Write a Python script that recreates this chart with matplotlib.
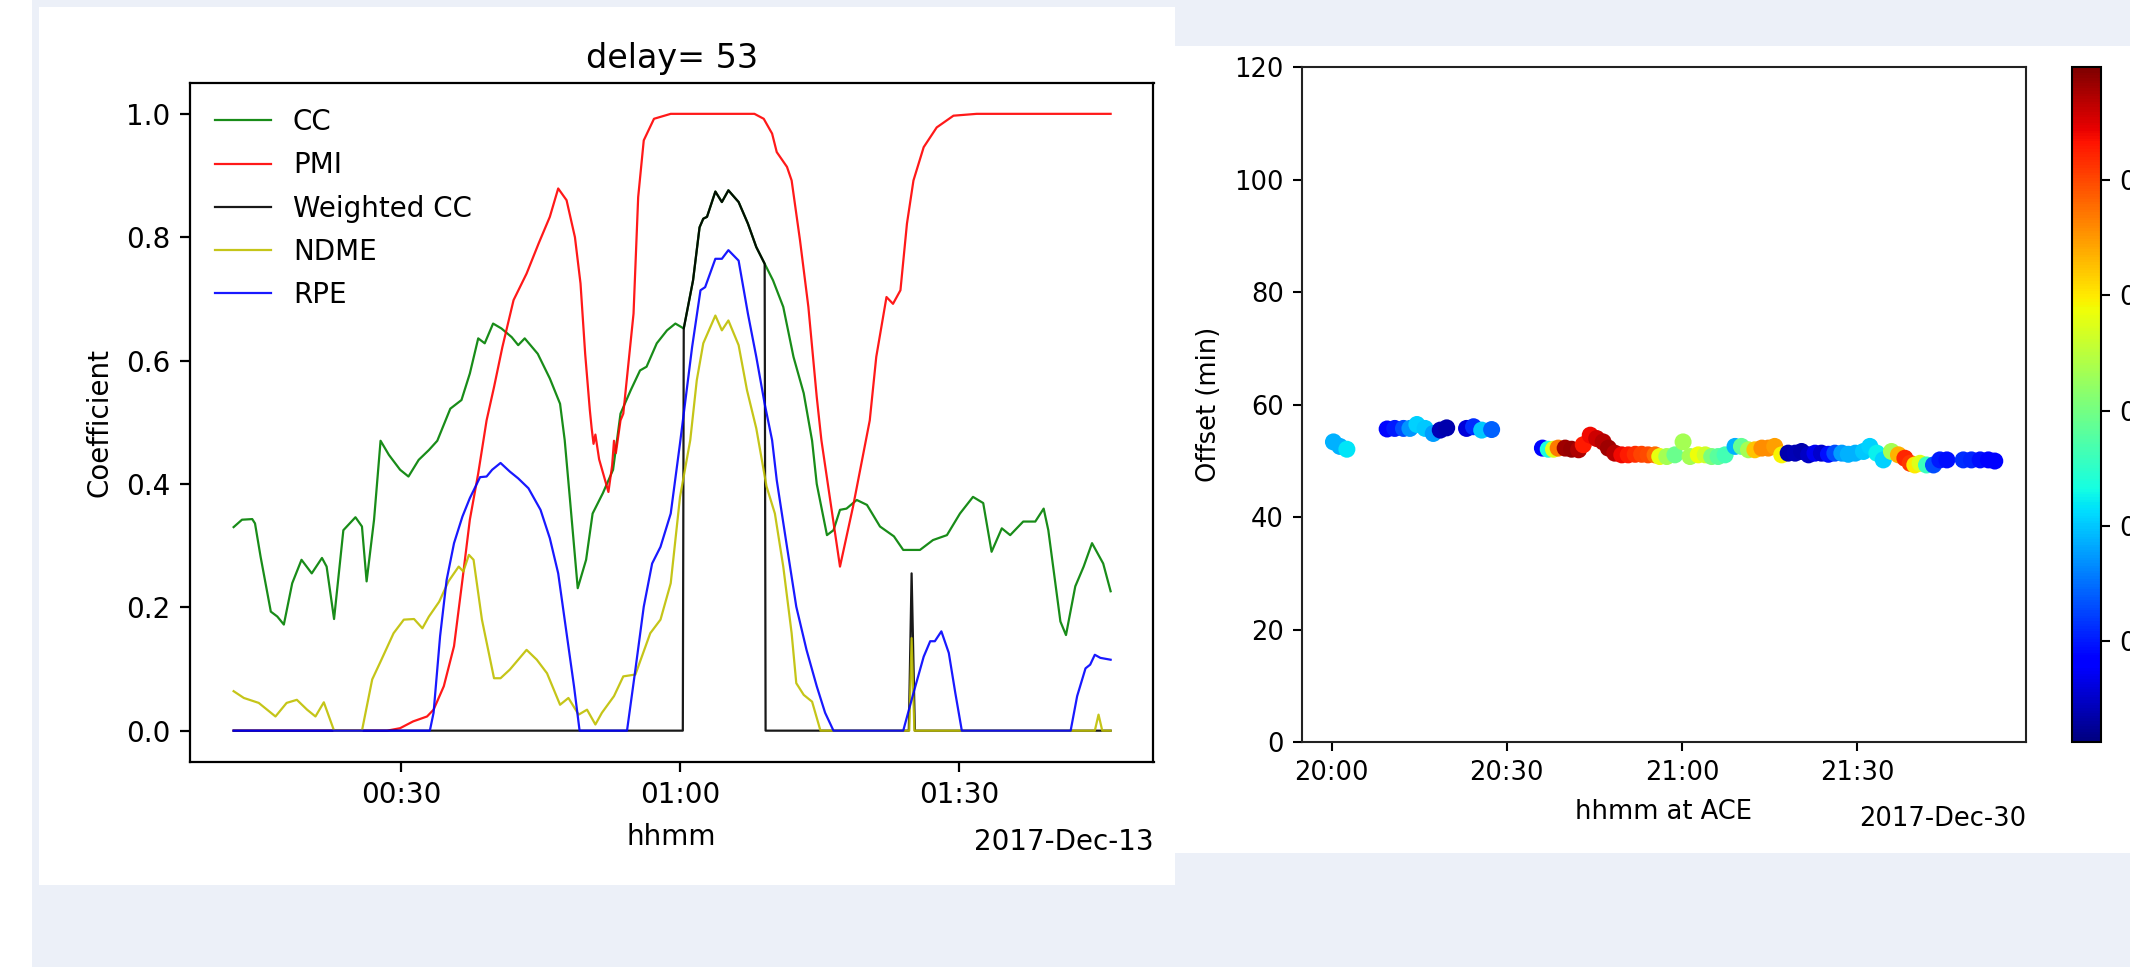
import numpy as np
import pandas as pd
import matplotlib
matplotlib.use("Agg")
import matplotlib.pyplot as plt
import matplotlib.dates as mdates
from matplotlib.patches import Rectangle

# ---------------- data: left panel (minutes after 2017-12-13 00:00) ----------------
cc_t = [12.0, 12.9, 14.0, 14.3, 14.9, 16.0, 16.7, 17.4, 18.3, 19.3,
        20.4, 21.5, 22.0, 22.8, 23.8, 25.1, 25.8, 26.3, 27.1, 27.8,
        28.7, 29.9, 30.8, 31.9, 33.0, 33.9, 35.3, 36.5, 37.4, 38.3,
        39.0, 39.9, 40.8, 41.9, 42.6, 43.3, 44.7, 46.0, 47.1, 47.6,
        48.2, 49.0, 49.9, 50.6, 51.7, 52.8, 53.6, 54.7, 55.7, 56.4,
        57.5, 58.6, 59.5, 60.4, 61.4, 62.1, 62.5, 62.9, 63.8, 64.5,
        65.2, 66.3, 67.3, 68.2, 69.1, 70.0, 71.1, 72.2, 73.3, 74.2,
        74.7, 75.8, 76.5, 77.2, 77.9, 79.0, 80.1, 81.5, 83.0, 84.0,
        85.8, 87.2, 88.7, 90.1, 91.5, 92.6, 93.5, 94.6, 95.5, 96.9,
        98.2, 99.1, 99.6, 100.9, 101.5, 102.5, 103.4, 104.3, 105.5, 106.3]
cc_v = [0.33, 0.342, 0.343, 0.336, 0.282, 0.193, 0.185, 0.172, 0.239, 0.277,
        0.255, 0.28, 0.266, 0.181, 0.325, 0.346, 0.331, 0.242, 0.342, 0.47,
        0.447, 0.423, 0.412, 0.439, 0.455, 0.47, 0.522, 0.536, 0.579, 0.636,
        0.628, 0.66, 0.652, 0.638, 0.625, 0.636, 0.611, 0.571, 0.53, 0.471,
        0.369, 0.231, 0.277, 0.352, 0.385, 0.423, 0.514, 0.552, 0.584, 0.59,
        0.628, 0.649, 0.66, 0.652, 0.73, 0.816, 0.83, 0.833, 0.874, 0.857,
        0.876, 0.857, 0.822, 0.784, 0.757, 0.73, 0.687, 0.606, 0.547, 0.47,
        0.40, 0.317, 0.325, 0.358, 0.36, 0.374, 0.366, 0.331, 0.315, 0.293,
        0.293, 0.309, 0.317, 0.352, 0.379, 0.369, 0.29, 0.328, 0.317, 0.339,
        0.339, 0.36, 0.325, 0.177, 0.155, 0.234, 0.266, 0.304, 0.271, 0.226]

pmi_t = [12.0, 28.5, 29.9, 31.3, 32.8, 33.5, 34.6, 35.7, 36.6, 37.4,
         38.3, 39.2, 40.0, 40.9, 42.1, 43.5, 44.8, 46.0, 46.9, 47.8,
         48.7, 49.3, 49.8, 50.3, 50.5, 50.7, 50.9, 51.3, 52.3, 52.7,
         52.9, 53.1, 53.6, 53.9, 55.0, 55.5, 56.1, 57.2, 59.0, 68.0,
         69.0, 69.9, 70.4, 71.5, 72.0, 72.9, 73.8, 74.7, 75.2, 77.2,
         78.6, 80.4, 81.1, 82.2, 82.9, 83.7, 84.4, 85.1, 86.2, 87.6,
         89.4, 91.9, 106.3]
pmi_v = [0.0, 0.0, 0.004, 0.015, 0.023, 0.034, 0.072, 0.137, 0.244, 0.342,
         0.417, 0.503, 0.557, 0.622, 0.698, 0.741, 0.79, 0.833, 0.879, 0.86,
         0.80, 0.725, 0.611, 0.52, 0.49, 0.465, 0.48, 0.44, 0.387, 0.43,
         0.47, 0.45, 0.503, 0.514, 0.676, 0.865, 0.957, 0.992, 1.0, 1.0,
         0.992, 0.968, 0.938, 0.914, 0.892, 0.795, 0.687, 0.541, 0.471, 0.266,
         0.363, 0.503, 0.606, 0.703, 0.692, 0.714, 0.822, 0.892, 0.946, 0.978,
         0.997, 1.0, 1.0]

wcc_t = [12.0, 60.3, 60.4, 61.4, 62.1, 62.5, 62.9, 63.8, 64.5, 65.2,
         66.3, 67.3, 68.2, 69.1, 69.2, 84.6, 84.9, 85.25, 106.3]
wcc_v = [0.0, 0.0, 0.652, 0.73, 0.816, 0.83, 0.833, 0.874, 0.857, 0.876,
         0.857, 0.822, 0.784, 0.757, 0.0, 0.0, 0.255, 0.0, 0.0]

ndme_t = [12.0, 13.1, 14.7, 15.6, 16.5, 17.7, 18.8, 19.9, 20.8, 21.7,
          22.8, 25.8, 26.9, 27.8, 29.2, 30.3, 31.4, 32.3, 33.0, 34.1,
          35.1, 36.2, 36.7, 37.3, 37.8, 38.7, 40.0, 40.7, 41.7, 43.5,
          44.6, 45.7, 47.1, 48.0, 49.1, 50.0, 50.9, 51.6, 52.9, 53.9,
          55.2, 56.8, 57.9, 59.0, 60.0, 61.1, 61.8, 62.5, 63.8, 64.5,
          65.2, 66.3, 67.2, 68.2, 69.3, 70.2, 71.1, 72.0, 72.5, 73.3,
          74.2, 75.1, 84.65, 84.9, 85.2, 104.6, 105.0, 105.4, 106.3]
ndme_v = [0.064, 0.053, 0.045, 0.034, 0.023, 0.045, 0.05, 0.034, 0.023, 0.046,
          0.0, 0.0, 0.083, 0.112, 0.158, 0.18, 0.181, 0.166, 0.185, 0.209,
          0.242, 0.266, 0.258, 0.285, 0.277, 0.18, 0.085, 0.085, 0.099, 0.131,
          0.115, 0.093, 0.042, 0.053, 0.026, 0.034, 0.01, 0.029, 0.056, 0.088,
          0.091, 0.158, 0.18, 0.239, 0.379, 0.471, 0.568, 0.628, 0.673, 0.649,
          0.665, 0.625, 0.552, 0.49, 0.396, 0.352, 0.266, 0.158, 0.077, 0.058,
          0.047, 0.0, 0.0, 0.15, 0.0, 0.0, 0.026, 0.0, 0.0]

rpe_t = [12.0, 33.1, 33.5, 34.2, 34.9, 35.7, 36.6, 37.4, 38.5, 39.2,
         39.8, 40.7, 41.7, 42.6, 43.7, 45.0, 46.0, 46.9, 47.8, 48.6,
         49.2, 54.3, 55.2, 56.1, 57.0, 57.9, 59.0, 60.0, 61.3, 62.2,
         62.7, 63.8, 64.5, 65.2, 66.3, 67.3, 68.2, 69.1, 69.9, 70.4,
         71.5, 72.5, 73.6, 74.7, 75.6, 76.5, 84.0, 85.1, 86.2, 86.9,
         87.4, 88.1, 88.9, 89.6, 90.3, 102.0, 102.7, 103.6, 104.1, 104.6,
         105.2, 106.3]
rpe_v = [0.0, 0.0, 0.029, 0.153, 0.244, 0.304, 0.347, 0.377, 0.411, 0.412,
         0.423, 0.434, 0.42, 0.409, 0.393, 0.358, 0.312, 0.255, 0.158, 0.072,
         0.0, 0.0, 0.099, 0.201, 0.271, 0.298, 0.352, 0.466, 0.622, 0.714,
         0.719, 0.765, 0.765, 0.779, 0.762, 0.676, 0.606, 0.53, 0.471, 0.406,
         0.298, 0.201, 0.131, 0.072, 0.029, 0.0, 0.0, 0.061, 0.12, 0.145,
         0.145, 0.161, 0.126, 0.061, 0.0, 0.0, 0.056, 0.101, 0.107, 0.123,
         0.118, 0.115]

series_names = ["CC", "PMI", "Weighted CC", "NDME", "RPE"]
yticks_left = [0.0, 0.2, 0.4, 0.6, 0.8, 1.0]

# ---------------- data: right panel (minutes after 2017-12-30 20:00) ----------------
sc_t = [0.3, 1.4, 2.6, 9.5, 10.8, 12.3, 13.4, 14.6, 16.0, 17.4,
        18.6, 19.7, 23.1, 24.3, 25.7, 27.4, 36.1, 37.1, 38.0, 38.8,
        40.0, 41.1, 42.3, 43.1, 44.3, 45.4, 46.5, 47.4, 48.5, 49.7,
        50.8, 52.0, 53.1, 54.2, 55.4, 56.2, 57.4, 58.8, 60.2, 61.4,
        62.8, 64.0, 65.1, 66.2, 67.4, 69.1, 70.2, 71.4, 72.5, 73.7,
        74.8, 75.9, 77.1, 78.2, 79.4, 80.5, 81.7, 82.8, 83.9, 85.1,
        86.2, 87.4, 88.5, 89.7, 91.1, 92.2, 93.4, 94.5, 95.9, 97.1,
        98.2, 99.1, 99.9, 100.8, 101.9, 103.1, 104.2, 105.4, 108.2, 109.6,
        111.1, 112.5, 113.6]
sc_off = [53.4, 52.6, 52.1, 55.7, 55.8, 55.8, 55.8, 56.5, 55.8, 54.9,
          55.5, 55.9, 55.8, 56.1, 55.5, 55.6, 52.3, 52.1, 52.1, 52.3,
          52.3, 52.1, 52.0, 52.9, 54.6, 54.0, 53.4, 52.3, 51.4, 51.1,
          51.1, 51.2, 51.2, 51.1, 51.1, 50.8, 50.8, 51.1, 53.4, 50.8,
          51.1, 51.1, 50.8, 50.8, 51.1, 52.6, 52.6, 52.0, 52.0, 52.3,
          52.3, 52.6, 51.1, 51.4, 51.4, 51.7, 51.1, 51.4, 51.4, 51.2,
          51.4, 51.4, 51.2, 51.4, 51.7, 52.6, 51.4, 50.2, 51.7, 51.1,
          50.5, 49.6, 49.3, 49.6, 49.3, 49.3, 50.2, 50.2, 50.2, 50.2,
          50.2, 50.2, 50.0]
sc_val = [0.488, 0.488, 0.517, 0.388, 0.40, 0.429, 0.47, 0.505, 0.50, 0.476,
          0.341, 0.335, 0.359, 0.412, 0.50, 0.441, 0.388, 0.535, 0.675, 0.769,
          0.880, 0.886, 0.875, 0.828, 0.839, 0.857, 0.869, 0.880, 0.869, 0.839,
          0.828, 0.816, 0.804, 0.798, 0.775, 0.681, 0.634, 0.593, 0.634, 0.634,
          0.687, 0.664, 0.605, 0.582, 0.564, 0.488, 0.587, 0.634, 0.722, 0.757,
          0.757, 0.746, 0.693, 0.335, 0.341, 0.335, 0.347, 0.371, 0.353, 0.394,
          0.429, 0.476, 0.488, 0.488, 0.50, 0.505, 0.523, 0.505, 0.634, 0.734,
          0.822, 0.81, 0.699, 0.675, 0.558, 0.429, 0.40, 0.394, 0.412, 0.406,
          0.394, 0.382, 0.382]
cbar_ticks = [0.4, 0.5, 0.6, 0.7, 0.8]
yticks_right = [0, 20, 40, 60, 80, 100, 120]

# ---------------- figure ----------------
W, H, DPI = 2130, 967, 100
fig = plt.figure(figsize=(W / DPI, H / DPI), dpi=DPI, facecolor="#ecf0f8")


def rect(x0, y0, x1, y1):
    """pixel box (top-left origin) -> figure fraction [l, b, w, h]"""
    return [x0 / W, 1 - y1 / H, (x1 - x0) / W, (y1 - y0) / H]


for box in [(0, 0, 32, 967), (39, 7, 1175, 885), (1175, 46, 2130, 853)]:
    l, b, w, h = rect(*box)
    fig.add_artist(Rectangle((l, b), w, h, transform=fig.transFigure,
                             facecolor="white", edgecolor="none", zorder=-10))


def to_dt(base, mins):
    return (pd.Timestamp(base) + pd.to_timedelta(np.asarray(mins, float), unit="min")).to_numpy()


# ---- left panel ----
base1 = "2017-12-13 00:00"
ax1 = fig.add_axes(rect(190, 83, 1153.5, 761.5))
colors = ["g", "r", "k", "y", "b"]
for (t, v), name, c in zip([(cc_t, cc_v), (pmi_t, pmi_v), (wcc_t, wcc_v),
                            (ndme_t, ndme_v), (rpe_t, rpe_v)], series_names, colors):
    ax1.plot(to_dt(base1, t), v, color=c, lw=1.6, alpha=0.9, label=name)

ax1.set_xlim(to_dt(base1, [7.31])[0], to_dt(base1, [110.91])[0])
ax1.set_ylim(-0.05, 1.05)
ax1.set_yticks(yticks_left)
ax1.yaxis.set_major_formatter(plt.FormatStrFormatter("%.1f"))
ax1.xaxis.set_major_locator(mdates.MinuteLocator(byminute=[0, 30]))
ax1.xaxis.set_major_formatter(mdates.DateFormatter("%H:%M"))
ax1.tick_params(labelsize=20, length=7, width=1.6, pad=7)
for s in ax1.spines.values():
    s.set_linewidth(1.6)
ax1.set_title("delay= 53", fontsize=24, pad=11)
ax1.set_xlabel("hhmm", fontsize=20, labelpad=10)
ax1.set_ylabel("Coefficient", fontsize=20, labelpad=9)
ax1.text(1.0, -(850 - 761.5) / 678.5, "2017-Dec-13", transform=ax1.transAxes,
         ha="right", va="baseline", fontsize=20)
ax1.legend(loc="upper left", frameon=False, fontsize=20, labelspacing=0.55,
           handlelength=2.0, handletextpad=0.8)

# ---- right panel ----
base2 = "2017-12-30 20:00"
ax2 = fig.add_axes(rect(1301.7, 67.4, 2026, 742.2))
sc = ax2.scatter(to_dt(base2, sc_t), sc_off, c=sc_val, cmap="jet",
                 vmin=0.312, vmax=0.898, s=150, linewidths=0)
ax2.set_xlim(to_dt(base2, [-5.14])[0], to_dt(base2, [118.95])[0])
ax2.set_ylim(0, 120)
ax2.set_yticks(yticks_right)
ax2.xaxis.set_major_locator(mdates.MinuteLocator(byminute=[0, 30]))
ax2.xaxis.set_major_formatter(mdates.DateFormatter("%H:%M"))
ax2.tick_params(labelsize=18.5, length=6.5, width=1.5, pad=6.5)
for s in ax2.spines.values():
    s.set_linewidth(1.5)
    s.set_edgecolor("#222222")
ax2.set_xlabel("hhmm at ACE", fontsize=18.5, labelpad=9)
ax2.set_ylabel("Offset (min)", fontsize=18.5, labelpad=9)
ax2.text(1.0, -(826 - 742.2) / 674.8, "2017-Dec-30", transform=ax2.transAxes,
         ha="right", va="baseline", fontsize=18.5)

cax = fig.add_axes(rect(2072, 67.4, 2101, 742.2))
cb = fig.colorbar(sc, cax=cax, ticks=cbar_ticks)
cb.ax.yaxis.set_major_formatter(plt.FormatStrFormatter("%.1f"))
cax.tick_params(labelsize=18.5, length=6.5, width=1.5, pad=6.5)
cb.outline.set_linewidth(1.5)

fig.savefig("out.png", dpi=DPI, facecolor=fig.get_facecolor())
